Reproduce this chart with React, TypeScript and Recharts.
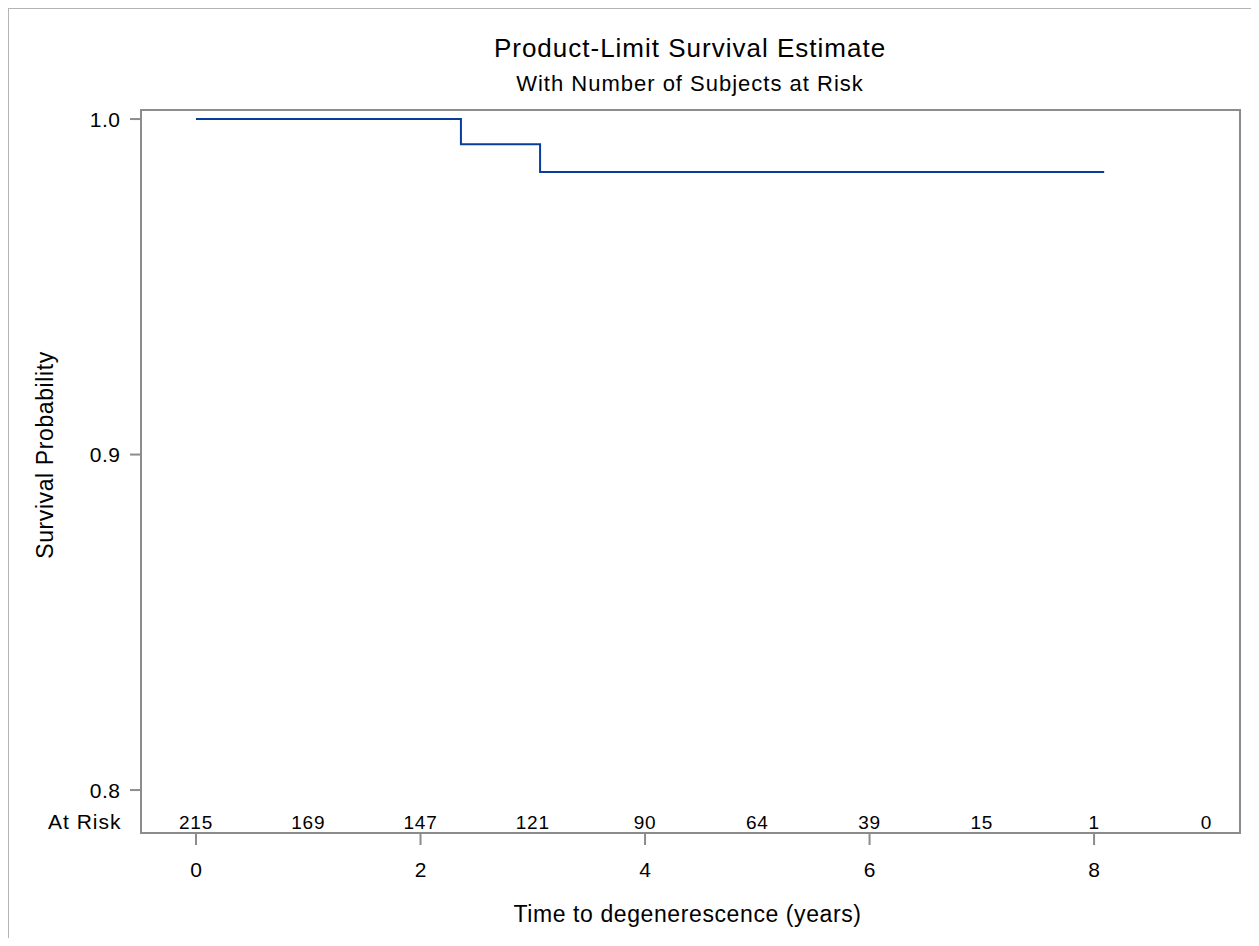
import { ComposedChart, Line, Scatter, XAxis, YAxis, ReferenceArea } from 'recharts'

// Kaplan-Meier estimate (step points)
const STEP_TIMES = [0, 2.36, 3.065, 8.09]
const STEP_SURVIVAL = [1.0, 0.9925, 0.9842, 0.9842]

// number at risk row
const AT_RISK_TIMES = [0, 1, 2, 3, 4, 5, 6, 7, 8, 9]
const AT_RISK_COUNTS = [215, 169, 147, 121, 90, 64, 39, 15, 1, 0]

const TIME_TICKS = [0, 2, 4, 6, 8]
const PROB_TICKS = [0.8, 0.9, 1.0]

const X_DOMAIN: [number, number] = [-0.49, 9.3]
const Y_DOMAIN: [number, number] = [0.7872, 1.0027]
const AT_RISK_ROW = 0.7905

const FONT = '"Liberation Sans", Arial, sans-serif'
const FRAME = '#8c8c8c'
const LINE_BLUE = '#0a3c9c'

const curve = STEP_TIMES.map((t, i) => ({ t, y: STEP_SURVIVAL[i] }))
const atRisk = AT_RISK_TIMES.map((t, i) => ({ t, y: AT_RISK_ROW, n: AT_RISK_COUNTS[i] }))

function ProbTick(props: any) {
  const { x, y, payload } = props
  if (payload.value === AT_RISK_ROW) {
    return (
      <text x={x + 1} y={y} dy="0.355em" textAnchor="end" fontSize={21} letterSpacing={1} fill="#000" fontFamily={FONT}>
        At Risk
      </text>
    )
  }
  return (
    <g>
      <line x1={x + 9.5} x2={x + 20.5} y1={y} y2={y} stroke={FRAME} strokeWidth={2} />
      <text x={x} y={y} dy="0.355em" textAnchor="end" fontSize={21} letterSpacing={0.5} fill="#000" fontFamily={FONT}>
        {payload.value.toFixed(1)}
      </text>
    </g>
  )
}

function AtRiskCount(props: any) {
  const { cx, cy, payload } = props
  return (
    <text x={cx} y={cy} dy="0.355em" textAnchor="middle" fontSize={19} letterSpacing={0.8} fill="#000" fontFamily={FONT}>
      {payload.n}
    </text>
  )
}

export default function App() {
  return (
    <div style={{ width: 1243, height: 930, overflow: 'hidden' }}>
      <div style={{ width: 1257, height: 944, border: '1px solid #b4b4b4', position: 'relative', background: '#fff' }}>
        <ComposedChart width={1257} height={944} margin={{ top: 101, right: 26, left: 10, bottom: 50 }}>
          <XAxis
            type="number"
            dataKey="t"
            domain={X_DOMAIN}
            allowDataOverflow
            ticks={TIME_TICKS}
            interval={0}
            height={70}
            axisLine={false}
            tickSize={12}
            tickMargin={17}
            tickLine={{ stroke: FRAME, strokeWidth: 2 }}
            tick={{ fontSize: 21, fill: '#000', fontFamily: FONT }}
          />
          <YAxis
            type="number"
            dataKey="y"
            domain={Y_DOMAIN}
            allowDataOverflow
            ticks={[AT_RISK_ROW, ...PROB_TICKS]}
            interval={0}
            width={122}
            axisLine={false}
            tickLine={false}
            tickSize={11}
            tickMargin={9.5}
            tick={<ProbTick />}
          />
          <ReferenceArea
            x1={X_DOMAIN[0]}
            x2={X_DOMAIN[1]}
            y1={Y_DOMAIN[0]}
            y2={Y_DOMAIN[1]}
            fill="none"
            stroke={FRAME}
            strokeWidth={2}
          />
          <Line
            data={curve}
            dataKey="y"
            type="stepAfter"
            stroke={LINE_BLUE}
            strokeWidth={2}
            dot={false}
            isAnimationActive={false}
          />
          <Scatter data={atRisk} dataKey="y" shape={<AtRiskCount />} isAnimationActive={false} />
        </ComposedChart>
        <svg width={1257} height={944} style={{ position: 'absolute', left: 0, top: 0, pointerEvents: 'none' }} fontFamily={FONT}>
          <text x={681} y={48} textAnchor="middle" fontSize={26} letterSpacing={1} fill="#000">
            Product-Limit Survival Estimate
          </text>
          <text x={681} y={82} textAnchor="middle" fontSize={22} letterSpacing={1} fill="#000">
            With Number of Subjects at Risk
          </text>
          <text x={678.5} y={912.7} textAnchor="middle" fontSize={23} letterSpacing={0.6} fill="#000">
            Time to degenerescence (years)
          </text>
          <text x={43.5} y={446} textAnchor="middle" fontSize={23} letterSpacing={0.6} fill="#000" transform="rotate(-90 43.5 446)">
            Survival Probability
          </text>
        </svg>
      </div>
    </div>
  )
}
